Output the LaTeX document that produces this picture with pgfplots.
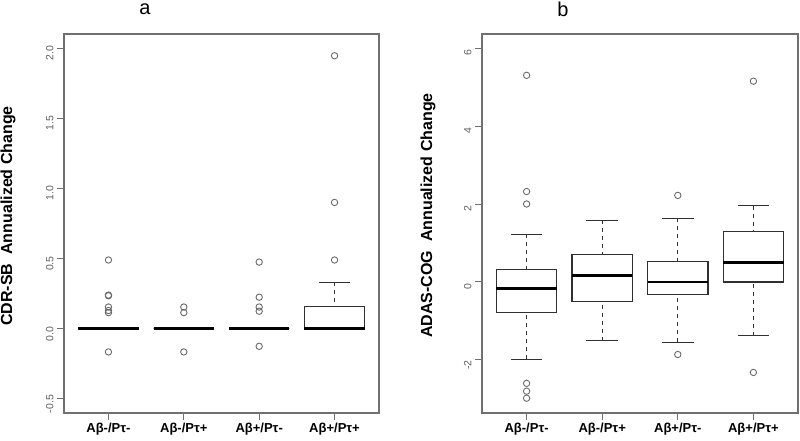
\documentclass[border=0pt]{standalone}
\usepackage{pgfplots}
\pgfplotsset{compat=1.18}
\usepgfplotslibrary{statistics}
\usepackage{fontspec}
\setmainfont{Liberation Sans}
\definecolor{framegray}{HTML}{707070}
\definecolor{labelgray}{HTML}{606060}
\definecolor{boxcol}{HTML}{303030}
\definecolor{outcol}{HTML}{6A6A6A}
\pgfplotsset{
  rbox/.style={
    scale only axis, width=315pt, height=379pt,
    xmin=0.41, xmax=4.59,
    clip=false,
    axis line style={draw=framegray, line width=1.3pt},
    tick align=outside, major tick length=7pt,
    xtick pos=bottom, ytick pos=left,
    tick style={draw=framegray, line width=1pt},
    xtick={1,2,3,4},
    xticklabels={Aβ-/Pτ-, Aβ-/Pτ+, Aβ+/Pτ-, Aβ+/Pτ+},
    xticklabel style={font=\fontsize{13}{13}\selectfont\bfseries, text=black},
    yticklabel style={rotate=90, anchor=south, font=\fontsize{10.5}{10.5}\selectfont, text=labelgray, xshift=-5pt},
    /pgf/number format/assume math mode=true,
    boxplot/draw direction=y,
    boxplot/box extend=0.8,
    boxplot/whisker extend=0.42,
    boxplot/every box/.style={draw=boxcol, line width=1.1pt},
    boxplot/every median/.style={draw=black, line width=2.6pt},
    boxplot/draw/lower whisker/.code={%
      \draw[draw=boxcol, line width=0.9pt, dash pattern=on 4pt off 4pt]
        (boxplot box cs:\pgfplotsboxplotvalue{lower whisker},0.5)
        -- (boxplot box cs:\pgfplotsboxplotvalue{lower quartile},0.5);
      \draw[draw=boxcol, line width=1pt]
        (boxplot whisker cs:\pgfplotsboxplotvalue{lower whisker},0)
        -- (boxplot whisker cs:\pgfplotsboxplotvalue{lower whisker},1);
    },
    boxplot/draw/upper whisker/.code={%
      \draw[draw=boxcol, line width=0.9pt, dash pattern=on 4pt off 4pt]
        (boxplot box cs:\pgfplotsboxplotvalue{upper whisker},0.5)
        -- (boxplot box cs:\pgfplotsboxplotvalue{upper quartile},0.5);
      \draw[draw=boxcol, line width=1pt]
        (boxplot whisker cs:\pgfplotsboxplotvalue{upper whisker},0)
        -- (boxplot whisker cs:\pgfplotsboxplotvalue{upper whisker},1);
    },
  },
  rb/.style={draw=boxcol, mark=o, mark size=3.2pt, mark options={draw=outcol, line width=0.9pt, solid}},
}
\begin{document}
\begin{tikzpicture}
\begin{axis}[rbox, at={(64pt,27pt)}, anchor=south west,
  ymin=-0.6, ymax=2.1, ytick={-0.5,0,0.5,1,1.5,2},
  yticklabel style={/pgf/number format/.cd, fixed, fixed zerofill, precision=1}]
\addplot[rb, boxplot prepared={draw position=1, lower whisker=0, lower quartile=0, median=0, upper quartile=0, upper whisker=0}]
  table[row sep=\\, y index=0] {v\\ 0.49\\ 0.24\\ 0.235\\ 0.155\\ 0.13\\ 0.115\\ -0.165\\};
\addplot[rb, boxplot prepared={draw position=2, lower whisker=0, lower quartile=0, median=0, upper quartile=0, upper whisker=0}]
  table[row sep=\\, y index=0] {v\\ 0.155\\ 0.115\\ -0.165\\};
\addplot[rb, boxplot prepared={draw position=3, lower whisker=0, lower quartile=0, median=0, upper quartile=0, upper whisker=0}]
  table[row sep=\\, y index=0] {v\\ 0.475\\ 0.225\\ 0.155\\ 0.125\\ -0.125\\};
\addplot[rb, boxplot prepared={draw position=4, lower whisker=0, lower quartile=0, median=0, upper quartile=0.16, upper whisker=0.33}]
  table[row sep=\\, y index=0] {v\\ 0.49\\ 0.90\\ 1.945\\};
\node[font=\fontsize{20}{20}\selectfont] at (rel axis cs:0.257,1.066) {a};
\node[rotate=90, font=\fontsize{16}{16}\selectfont\bfseries] at (rel axis cs:-0.178,0.52) {CDR-SB\ \ Annualized Change};
\end{axis}
\begin{axis}[rbox, at={(482pt,27pt)}, anchor=south west, width=316pt,
  ymin=-3.36, ymax=6.36, ytick={-2,0,2,4,6}]
\addplot[rb, boxplot prepared={draw position=1, lower whisker=-1.98, lower quartile=-0.78, median=-0.16, upper quartile=0.33, upper whisker=1.22}]
  table[row sep=\\, y index=0] {v\\ 5.3\\ 2.32\\ 2.0\\ -2.6\\ -2.8\\ -2.98\\};
\addplot[rb, boxplot prepared={draw position=2, lower whisker=-1.51, lower quartile=-0.49, median=0.16, upper quartile=0.70, upper whisker=1.58}]
  coordinates {};
\addplot[rb, boxplot prepared={draw position=3, lower whisker=-1.55, lower quartile=-0.33, median=0.0, upper quartile=0.53, upper whisker=1.64}]
  table[row sep=\\, y index=0] {v\\ 2.22\\ -1.86\\};
\addplot[rb, boxplot prepared={draw position=4, lower whisker=-1.38, lower quartile=0.0, median=0.5, upper quartile=1.30, upper whisker=1.96}]
  table[row sep=\\, y index=0] {v\\ 5.15\\ -2.32\\};
\node[font=\fontsize{20}{20}\selectfont] at (rel axis cs:0.256,1.066) {b};
\node[rotate=90, font=\fontsize{16}{16}\selectfont\bfseries] at (rel axis cs:-0.171,0.521) {ADAS-COG\ \ Annualized Change};
\end{axis}
\pgfresetboundingbox
\path (0,0) rectangle (800pt,440pt);
\end{tikzpicture}
\end{document}
